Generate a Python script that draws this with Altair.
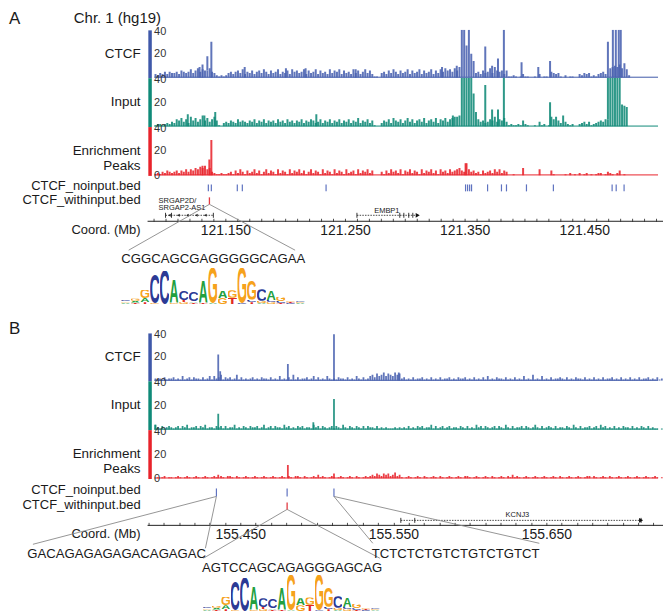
import base64
import json

import altair as alt
import pandas as pd

# ------------------------------------------------------------------ data
CHROM_TITLE = "Chr. 1 (hg19)"
TRACK_NAMES = ["CTCF", "Input", "Enrichment\nPeaks"]
BED_NAMES = ["CTCF_noinput.bed", "CTCF_withinput.bed"]
COORD_NAME = "Coord. (Mb)"
SIGNAL_TICKS = [[20, 40], [20, 40], [0, 20, 40]]

# signal codes: one character per bin; 0-9 = value, A-Z = 10-35, '*' = 40 (off scale)
A_BIN = 0.002
CTCF_A = [
    (121.0883, "3243535445365457468576"),
    (121.1323, "6854"),
    (121.1403, "21212"),
    (121.1503, "45356473546356475364573546375645736457364537465736453746357463"),
    (121.2743, "110"),
    (121.2803, "4536475364573645736457364758675869"),
    (121.3483, "**R*KE"),
    (121.3603, "45364584965636112101311001030110543410201100324341213453489A9B8C72"),
]
CTCF_A_SPIKES = [(121.1267, 9), (121.1292, 11), (121.1333, 12), (121.1367, 30), (121.1650, 9),
                 (121.2000, 8), (121.2167, 8), (121.2592, 7), (121.3325, 9), (121.3450, 10),
                 (121.3692, 26), (121.3750, 10), (121.3800, 16), (121.3850, 40), (121.4000, 13),
                 (121.4142, 9), (121.4242, 14), (121.4733, 26), (121.4775, 40), (121.4800, 40),
                 (121.4825, 40), (121.4842, 40)]
INPUT_A = [
    (121.0883, "1221232"),
    (121.1023, "4365746385746957468"),
    (121.1403, "510"),
    (121.1463, "3435436454354635463545364536453546354653463546354635463547354635"),
    (121.2743, "100"),
    (121.2803, "3546375463574635647356473657467889"),
    (121.3483, "*****R"),
    (121.3603, "C64534658465741211215210010412018685394212002342412345466*****IHG"),
]
INPUT_A_SPIKES = [(121.1167, 10), (121.1308, 9), (121.1400, 12), (121.2258, 10), (121.3417, 9),
                  (121.3692, 34), (121.3750, 14), (121.3800, 14), (121.3850, 40), (121.4242, 20),
                  (121.4733, 34)]
ENR_A = [
    (121.0883, "1213243234243535465768"),
    (121.1323, "5632"),
    (121.1403, "11211"),
    (121.1503, "23142531423524135243152431524352413524315243152431523415243524"),
    (121.2743, "000"),
    (121.2803, "3142534251435243152435241534253456"),
    (121.3483, "43A534"),
    (121.3603, "23142342535243001000600000050000410000102010201201012201321024010"),
]
ENR_A_SPIKES = [(121.1292, 8), (121.1350, 13), (121.1367, 29), (121.3525, 10)]

B_BIN = 0.0015
CTCF_B = [
    (155.3920, "212131223121412313221312414235132312513121231"),
    (155.4595, "213221312141213151312231241312142121322131214"),
    (155.5270, "213124536457465475623121312231213121312231213"),
    (155.5945, "223121312131412132213121312141215121412131223"),
    (155.6620, "213121322131213121312231213121312131223121312"),
]
CTCF_B_SPIKES = [(155.4344, 22), (155.4357, 8), (155.4806, 14), (155.5112, 39), (155.5542, 7)]
INPUT_B = [
    (155.3920, "421312321231324122313241221323131224121321322"),
    (155.4595, "312412313221423121323122142313212313214213213"),
    (155.5270, "213132213121211121212131213231224131231231221"),
    (155.5945, "321312142313212313214213122313212421312321312"),
    (155.6620, "213214213122312314231213121322131213213121101"),
]
INPUT_B_SPIKES = [(155.3926, 4), (155.4344, 13), (155.4975, 6), (155.5112, 25)]
ENR_B = [
    (155.3920, "010120110121012101210121012102102210210121012"),
    (155.4595, "101210121012102102210210121312101210121012102"),
    (155.5270, "101212324324342352310121012102101210210121012"),
    (155.5945, "102210121012102101210213121012101210121012102"),
    (155.6620, "101210121012202101210210121012101210121012101"),
]
ENR_B_SPIKES = [(155.4344, 3), (155.4806, 11), (155.5112, 4)]

# peaks (Mb)
A_NOINPUT = [121.1358, 121.1383, 121.1600, 121.1642, 121.2342, 121.3508, 121.3525, 121.3542,
             121.3558, 121.3692, 121.3808, 121.3850, 121.4017, 121.4242, 121.4733, 121.4767, 121.4833]
A_WITHINPUT = [121.1367]
B_NOINPUT = [155.4344, 155.4806, 155.5112]
B_WITHINPUT = [155.4806]

# genes (Mb)
A_GENE_SPANS = [(121.1000, 121.1400), (121.2600, 121.3108)]
A_EXONS = [121.1000, 121.1050, 121.1400, 121.2600, 121.2958, 121.2992, 121.3033, 121.3067]
A_ARROWS_MINUS = [121.1033, 121.1108, 121.1183, 121.1258, 121.1333]
A_ARROWS_PLUS = [121.3108]
A_GENE_LABELS = ["SRGAP2D/", "SRGAP2-AS1", "EMBP1"]
A_GENE_LABEL_MB = [121.1100, 121.1138, 121.2850]
B_GENE_SPANS = [(155.5549, 155.7119)]
B_EXONS = [155.5549, 155.5640, 155.7119]
B_ARROWS_MINUS = []
B_ARROWS_PLUS = [155.7119]
B_GENE_LABELS = ["KCNJ3"]
B_GENE_LABEL_MB = [155.6311]

# coordinate axes
A_MAJOR = [121.150, 121.250, 121.350, 121.450]
B_MAJOR = [155.450, 155.550, 155.650]

# motif sequences and their anchors (peak Mb -> text end Mb)
A_SEQS = ["CGGCAGCGAGGGGGCAGAA"]
A_SEQ_MB = [121.1400]
A_ZOOM = [(121.1367, 121.0692), (121.1367, 121.2083)]
B_SEQS = ["GACAGAGAGAGACAGAGAC", "AGTCCAGCAGAGGGAGCAG", "TCTCTCTGTCTGTCTGTCT"]
B_SEQ_MB = [155.3692, 155.4839, 155.5907]
B_ZOOM = [(155.4344, 155.3145), (155.4344, 155.4272), (155.4806, 155.4259),
          (155.4806, 155.5412), (155.5112, 155.5366), (155.5112, 155.6454)]

# CTCF motif logo: per column, (letter, bits) stacked bottom -> top
LOGO = [
    [("A", 0.08), ("G", 0.08), ("C", 0.07)],
    [("T", 0.08), ("A", 0.10), ("G", 0.12)],
    [("T", 0.10), ("A", 0.22), ("G", 0.45)],
    [("G", 0.06), ("C", 1.55)],
    [("C", 1.80)],
    [("G", 0.08), ("A", 1.25)],
    [("G", 0.10), ("T", 0.12), ("C", 0.48)],
    [("T", 0.08), ("A", 0.08), ("C", 0.50)],
    [("T", 0.08), ("A", 1.20)],
    [("A", 0.05), ("G", 1.90)],
    [("G", 0.32), ("A", 0.38)],
    [("T", 0.34), ("G", 0.40)],
    [("C", 0.05), ("G", 1.90)],
    [("T", 0.10), ("C", 0.14), ("G", 1.05)],
    [("A", 0.06), ("G", 0.12), ("C", 0.62)],
    [("G", 0.10), ("C", 0.12), ("A", 0.50)],
    [("T", 0.06), ("C", 0.10), ("G", 0.24)],
    [("C", 0.06), ("T", 0.06), ("G", 0.08)],
    [("A", 0.05), ("G", 0.05), ("C", 0.05)],
]

# ------------------------------------------------------------------ style / layout
FONT = "Liberation Sans"
INK = "#1a1a1a"
TRACK_COLORS = ["#4a62b0", "#118a78", "#e8262d"]
AXIS_COLORS = ["#3f58a9", "#0f8a78", "#e8232b"]
NOINPUT_COLOR = "#5f73c0"
WITHINPUT_COLOR = "#e23a42"
ZOOM_COLOR = "#8a8a8a"
LETTER_COLORS = {"A": "#22a03f", "C": "#2c3a95", "G": "#f6a21c", "T": "#e12a23"}
LETTER_W = {"A": 104, "C": 94, "G": 100, "T": 86}

W = 656
LABEL_X = 132
AXIS_X = 141
TRACK_H = [48, 49, 49]
A_DOMAIN = [120.96917, 121.51583]
B_DOMAIN = [155.29886, 155.72622]
A_DATA_START = 121.0883
B_DATA_START = 155.3920
A_AXIS_START = 121.0850
B_AXIS_START = 155.3894

A_LAYOUT = dict(H=133, noinput=(9, 16), noinput_label=11, withinput=(22, 29), withinput_label=25,
                gene=40, gene_labels=[25.5, 33, 35.5], axis=46, axis_label=55,
                zoom_from=[29, 29], zoom_to=[75, 75], seq=[84], logo_left=112, logo_width=185,
                logo_base=129, ppb=18.5)
B_LAYOUT = dict(H=134, noinput=(10, 18), noinput_label=12, withinput=(24, 31), withinput_label=27,
                gene=42, gene_labels=[36.5], axis=47, axis_label=55.5,
                zoom_from=[18, 18, 31, 31, 18, 18], zoom_to=[66, 70, 80, 80, 65, 65], seq=[76, 90, 76],
                logo_left=194, logo_width=178, logo_base=133, ppb=18.5)


def code_value(ch):
    if ch == "*":
        return 40
    if ch.isdigit():
        return int(ch)
    return 10 + ord(ch) - ord("A")


def signal_frame(segments, spikes, binw):
    rows = []
    for start, code in segments:
        for i, ch in enumerate(code):
            rows.append({"mb": start + (i + 0.5) * binw, "v": code_value(ch)})
    for mb, v in spikes:
        rows.append({"mb": mb, "v": v})
    return pd.DataFrame(rows)


def track(df, domain, data_start, color, axis_color, name, height, ticks, bar_w):
    xs = alt.Scale(domain=domain, nice=False, zero=False)
    ys = alt.Scale(domain=[0, 40], nice=False, zero=False)
    yaxis = alt.Axis(orient="left", offset=-AXIS_X, values=ticks, domainColor=axis_color, domainWidth=3.5,
                     ticks=False, tickSize=0, grid=False, labelAlign="left", labelBaseline="middle",
                     labelOffset={"condition": {"test": "datum.value == 40", "value": 1.5}, "value": 0},
                     labelPadding=-4, labelFontSize=11, labelFont=FONT, labelColor="#333333",
                     labelOverlap=False, labelFlush=False, labelBound=False, title=None, zindex=1)
    bars = alt.Chart(df).mark_bar(width=bar_w, color=color, opacity=0.88, clip=True).encode(
        x=alt.X("mb:Q", scale=xs, axis=None),
        y=alt.Y("v:Q", scale=ys, axis=yaxis),
    )
    base = alt.Chart(pd.DataFrame({"a": [data_start], "b": [domain[1]]})).mark_rule(
        color=axis_color, strokeWidth=1).encode(
        x=alt.X("a:Q", scale=xs, axis=None), x2="b:Q", y=alt.value(height - 0.5))
    label = alt.Chart(pd.DataFrame({"t": [name]})).mark_text(
        align="right", baseline="middle", fontSize=13.5, font=FONT, color=INK,
        lineBreak="\n", lineHeight=15.5).encode(
        x=alt.value(LABEL_X), y=alt.value(height / 2), text="t:N")
    return alt.layer(base, bars, label).properties(width=W, height=height)


def letter_uri(ch):
    w = LETTER_W[ch]
    svg = ("<svg xmlns='http://www.w3.org/2000/svg' width='%d' height='100' viewBox='0 0 %d 100' "
           "preserveAspectRatio='none'><text x='%g' y='100' text-anchor='middle' "
           "font-family='Liberation Sans, Arial, sans-serif' font-weight='700' font-size='145' "
           "fill='%s'>%s</text></svg>") % (w, w, w / 2, LETTER_COLORS[ch], ch)
    return "data:image/svg+xml;base64," + base64.b64encode(svg.encode()).decode()


def logo_frame():
    rows = []
    for col, stack in enumerate(LOGO):
        lo = 0.0
        for ch, h in stack:
            rows.append({"c0": col + 0.02, "c1": col + 0.98, "lo": lo, "hi": lo + h, "url": letter_uri(ch)})
            lo += h
    return pd.DataFrame(rows)


def annotation(L, domain, axis_start, noinput, withinput, spans, exons, arrows_minus, arrows_plus,
               gene_labels, gene_label_mb, major, minor, seqs, seq_mb, zooms):
    H = L["H"]
    xs = alt.Scale(domain=domain, nice=False, zero=False)
    ls = alt.Scale(domain=[H, 0], nice=False, zero=False)

    def X(f):
        return alt.X(f, scale=xs, axis=None)

    def Y(f):
        return alt.Y(f, scale=ls, axis=None)

    layers = []
    # coordinate axis
    keys = [int(round(m * 1000)) for m in major]
    expr = "indexof(%s, round(datum.value * 1000)) >= 0 ? format(datum.value, '.3f') : ''" % json.dumps(keys)
    xaxis = alt.Axis(orient="top", offset=-L["axis"], values=minor, domain=False, ticks=True, tickSize=3,
                     tickWidth=0.8, tickColor="#222222", grid=False, labelExpr=expr, labelPadding=-12,
                     labelBaseline="middle", labelFontSize=14, labelFont=FONT, labelColor=INK,
                     labelOverlap=False, labelFlush=False, labelBound=False, title=None)
    layers.append(alt.Chart(pd.DataFrame({"a": [axis_start], "b": [domain[1]], "lane": [L["axis"]]}))
                  .mark_rule(color="#222222", strokeWidth=1)
                  .encode(x=alt.X("a:Q", scale=xs, axis=xaxis), x2="b:Q", y=Y("lane:Q")))
    # row labels
    lab = pd.DataFrame({"t": BED_NAMES + [COORD_NAME],
                        "lane": [L["noinput_label"], L["withinput_label"], L["axis_label"]]})
    layers.append(alt.Chart(lab).mark_text(align="right", baseline="middle", fontSize=13, font=FONT,
                                           color=INK).encode(x=alt.value(LABEL_X), y=Y("lane:Q"), text="t:N"))
    # genes
    g = pd.DataFrame({"s": [a for a, b in spans], "e": [b for a, b in spans], "lane": L["gene"]})
    layers.append(alt.Chart(g).mark_rule(color="#333333", strokeWidth=0.9, strokeDash=[1.5, 1.2])
                  .encode(x=X("s:Q"), x2="e:Q", y=Y("lane:Q")))
    ex = pd.DataFrame({"mb": exons, "y0": L["gene"] - 2.5, "y1": L["gene"] + 2.5})
    layers.append(alt.Chart(ex).mark_rule(color="#222222", strokeWidth=0.9)
                  .encode(x=X("mb:Q"), y=Y("y0:Q"), y2="y1:Q"))
    if arrows_minus:
        am = pd.DataFrame({"mb": arrows_minus, "lane": L["gene"]})
        layers.append(alt.Chart(am).mark_point(shape="triangle-left", filled=True, size=9, color="#222222",
                                               opacity=1).encode(x=X("mb:Q"), y=Y("lane:Q")))
    if arrows_plus:
        ap = pd.DataFrame({"mb": arrows_plus, "lane": L["gene"]})
        layers.append(alt.Chart(ap).mark_point(shape="triangle-right", filled=True, size=22, color="#111111",
                                               opacity=1).encode(x=X("mb:Q"), y=Y("lane:Q")))
    gl = pd.DataFrame({"t": gene_labels, "mb": gene_label_mb, "lane": L["gene_labels"]})
    layers.append(alt.Chart(gl).mark_text(align="center", baseline="middle", fontSize=7.5, font=FONT,
                                          color=INK).encode(x=X("mb:Q"), y=Y("lane:Q"), text="t:N"))
    # zoom lines
    z = pd.DataFrame({"x": [a for a, b in zooms], "x2": [b for a, b in zooms],
                      "y": L["zoom_from"], "y2": L["zoom_to"]})
    layers.append(alt.Chart(z).mark_rule(color=ZOOM_COLOR, strokeWidth=0.9)
                  .encode(x=X("x:Q"), x2="x2:Q", y=Y("y:Q"), y2="y2:Q"))
    # peaks
    ni = pd.DataFrame({"mb": noinput, "y0": L["noinput"][0], "y1": L["noinput"][1]})
    layers.append(alt.Chart(ni).mark_rule(color=NOINPUT_COLOR, strokeWidth=1.2)
                  .encode(x=X("mb:Q"), y=Y("y0:Q"), y2="y1:Q"))
    wi = pd.DataFrame({"mb": withinput, "y0": L["withinput"][0], "y1": L["withinput"][1]})
    layers.append(alt.Chart(wi).mark_rule(color=WITHINPUT_COLOR, strokeWidth=1.3)
                  .encode(x=X("mb:Q"), y=Y("y0:Q"), y2="y1:Q"))
    # sequences
    sq = pd.DataFrame({"t": seqs, "mb": seq_mb, "lane": L["seq"]})
    layers.append(alt.Chart(sq).mark_text(align="center", baseline="middle", fontSize=13.2, font=FONT,
                                          color=INK).encode(x=X("mb:Q"), y=Y("lane:Q"), text="t:N"))
    # motif logo
    cw = L["logo_width"] / len(LOGO)
    lx = alt.Scale(domain=[-L["logo_left"] / cw, (W - L["logo_left"]) / cw], nice=False, zero=False)
    ly = alt.Scale(domain=[(L["logo_base"] - H) / L["ppb"], L["logo_base"] / L["ppb"]], nice=False, zero=False)
    layers.append(alt.Chart(logo_frame()).mark_image(aspect=False).encode(
        x=alt.X("c0:Q", scale=lx, axis=None), x2="c1:Q",
        y=alt.Y("hi:Q", scale=ly, axis=None), y2="lo:Q", url="url:N"))
    return alt.layer(*layers).resolve_scale(x="independent", y="independent").properties(width=W, height=H)


def title_row(height, texts):
    layers = []
    for t, x, y, size, baseline in texts:
        layers.append(alt.Chart(pd.DataFrame({"t": [t]})).mark_text(
            align="left", baseline=baseline, fontSize=size, font=FONT, color=INK).encode(
            x=alt.value(x), y=alt.value(y), text="t:N"))
    return alt.layer(*layers).properties(width=W, height=height)


rows = [title_row(19, [("A", 0, 0, 17, "top"), (CHROM_TITLE, 65, 0, 15, "top")])]
for segs, spikes, name, color, acolor, h, ticks in zip(
        [CTCF_A, INPUT_A, ENR_A], [CTCF_A_SPIKES, INPUT_A_SPIKES, ENR_A_SPIKES],
        TRACK_NAMES, TRACK_COLORS, AXIS_COLORS, TRACK_H, SIGNAL_TICKS):
    rows.append(track(signal_frame(segs, spikes, A_BIN), A_DOMAIN, A_DATA_START, color, acolor, name, h, ticks, 2.0))
A_MINOR = [round(121.09 + 0.01 * k, 2) for k in range(43)]
rows.append(annotation(A_LAYOUT, A_DOMAIN, A_AXIS_START, A_NOINPUT, A_WITHINPUT, A_GENE_SPANS, A_EXONS,
                       A_ARROWS_MINUS, A_ARROWS_PLUS, A_GENE_LABELS, A_GENE_LABEL_MB, A_MAJOR, A_MINOR,
                       A_SEQS, A_SEQ_MB, A_ZOOM))
rows.append(title_row(25, [("B", 0, 21, 17, "middle")]))
for segs, spikes, name, color, acolor, h, ticks in zip(
        [CTCF_B, INPUT_B, ENR_B], [CTCF_B_SPIKES, INPUT_B_SPIKES, ENR_B_SPIKES],
        TRACK_NAMES, TRACK_COLORS, AXIS_COLORS, TRACK_H, SIGNAL_TICKS):
    rows.append(track(signal_frame(segs, spikes, B_BIN), B_DOMAIN, B_DATA_START, color, acolor, name, h, ticks, 1.8))
B_MINOR = [round(155.39 + 0.01 * k, 2) for k in range(34)]
rows.append(annotation(B_LAYOUT, B_DOMAIN, B_AXIS_START, B_NOINPUT, B_WITHINPUT, B_GENE_SPANS, B_EXONS,
                       B_ARROWS_MINUS, B_ARROWS_PLUS, B_GENE_LABELS, B_GENE_LABEL_MB, B_MAJOR, B_MINOR,
                       B_SEQS, B_SEQ_MB, B_ZOOM))

chart = alt.vconcat(*rows, spacing=0, bounds="flush").properties(padding=0).configure_view(stroke="transparent")
chart.save("out.html", embed_options={"renderer": "svg", "actions": False})
